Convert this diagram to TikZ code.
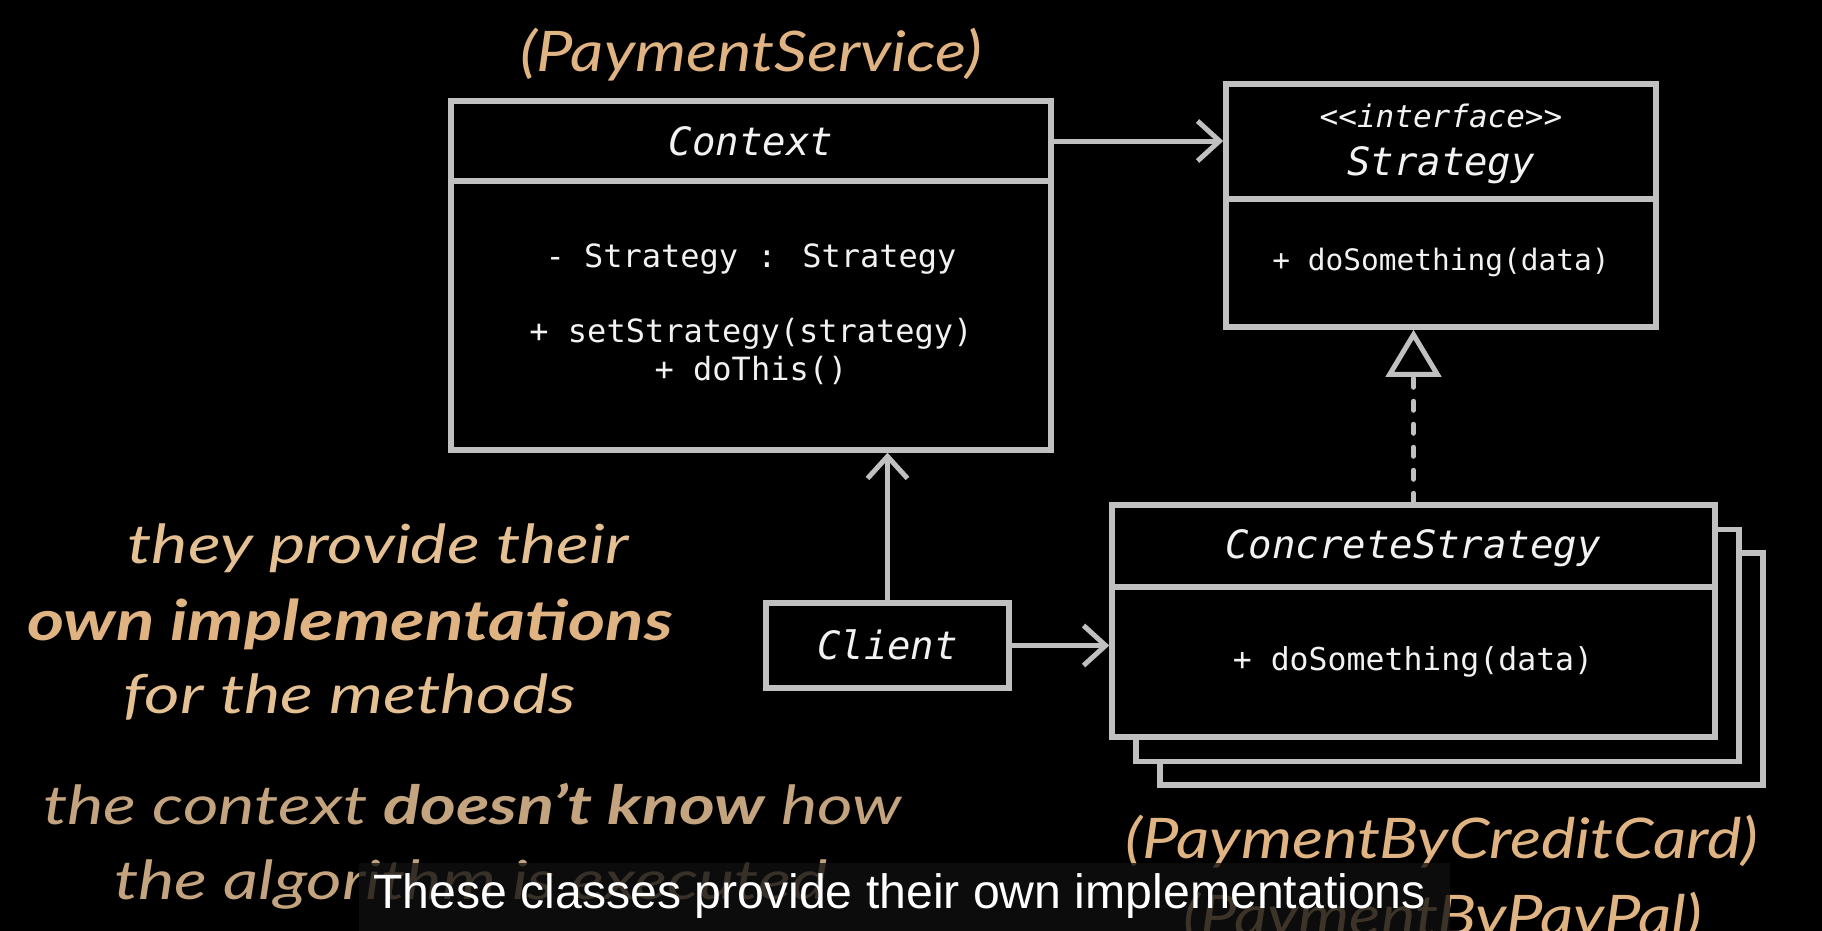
\documentclass[tikz,border=0pt]{standalone}
\usepackage{fontspec}
\usetikzlibrary{arrows.meta}
\newfontfamily\umono{DejaVu Sans Mono}
\newfontfamily\goldA[FakeStretch=1.16]{Lato}
\newfontfamily\goldB[FakeStretch=1.27]{Lato}
\newfontfamily\subf{Liberation Sans}
\definecolor{boxgray}{RGB}{192,192,192}
\definecolor{gold}{RGB}{224,180,130}
\definecolor{goldlt}{RGB}{228,192,146}
\definecolor{golddim}{RGB}{196,164,126}
\definecolor{subbg}{RGB}{16,16,16}
\definecolor{mtext}{RGB}{242,242,242}
\begin{document}
\begin{tikzpicture}[x=1pt,y=-1pt,
  umlbox/.style={draw=boxgray, line width=5.5pt, fill=black, inner sep=0pt},
  divider/.style={draw=boxgray, line width=5.5pt},
  conn/.style={draw=boxgray, line width=5pt, -{Straight Barb[length=22pt,width=40pt]}},
  realize/.style={draw=boxgray, line width=5pt, line cap=round, dash pattern=on 9pt off 14pt,
     -{Triangle[open,length=47pt,width=55pt,fill=black]}},
  mtitle/.style={text=mtext, inner sep=0pt, anchor=base, font=\umono\itshape\fontsize{39}{47}\selectfont},
  mbody/.style={text=mtext, inner sep=0pt, anchor=base, font=\umono\fontsize{32}{38}\selectfont},
  aliastxt/.style={text=gold, inner sep=0pt, anchor=base, font=\goldA\itshape\fontsize{56}{62}\selectfont},
  goldtxt/.style={text=goldlt, inner sep=0pt, anchor=base, font=\goldB\itshape\fontsize{54}{60}\selectfont},
  subtxt/.style={text=white, inner sep=0pt, anchor=base west, font=\subf\fontsize{48.2}{55}\selectfont}
]
% background / frame
\fill[black] (0,0) rectangle (1822,931);
\useasboundingbox (0,0) rectangle (1822,931);

% Context
\node[umlbox, minimum width=600pt, minimum height=349pt] (context) at (751,275.5) {};
\draw[divider] (context.west |- 0,181) -- (context.east |- 0,181);
\node[mtitle] (ctxtitle) at (751,155) {Context};
\node[mbody] (ctxattr) at (751,267) {- Strategy : Strategy};
\node[mbody] (ctxm1) at (751,342) {+ setStrategy(strategy)};
\node[mbody] (ctxm2) at (751,380) {+ doThis()};
\node[aliastxt] (ctxalias) at (751,72) {(PaymentService)};

% Strategy
\node[umlbox, minimum width=430pt, minimum height=243pt] (strategy) at (1441,205.5) {};
\draw[divider] (strategy.west |- 0,199) -- (strategy.east |- 0,199);
\node[mtitle, font=\umono\itshape\fontsize{31}{37}\selectfont] (stereo) at (1441,128) {<{}<interface>{}>};
\node[mtitle] (strtitle) at (1441,175) {Strategy};
\node[mbody, font=\umono\fontsize{29.5}{35}\selectfont] (strm) at (1441,270) {+ doSomething(data)};

% Concrete strategies (stack)
\node[umlbox, minimum width=603pt, minimum height=232pt] (concrete3) at (1461.5,669) {};
\node[umlbox, minimum width=603pt, minimum height=232pt] (concrete2) at (1437.5,645.5) {};
\node[umlbox, minimum width=603pt, minimum height=232pt] (concrete) at (1413.5,621) {};
\draw[divider] (concrete.west |- 0,587) -- (concrete.east |- 0,587);
\node[mtitle] (contitle) at (1413,558) {ConcreteStrategy};
\node[mbody, font=\umono\fontsize{31.5}{37}\selectfont] (conm) at (1413,670) {+ doSomething(data)};

% Client
\node[umlbox, minimum width=243pt, minimum height=85pt] (client) at (887.5,645.5) {};
\node[mtitle] (clititle) at (887.5,659) {Client};

% connectors
\coordinate (assocy) at (0,141);
\draw[conn] (context.east |- assocy) -- (strategy.west |- assocy);
\draw[realize] (concrete.north) -- (concrete.north |- strategy.south);
\draw[conn] (client.north) -- (client.north |- context.south);
\draw[conn] (client.east) -- (client.east -| concrete.west);

% aliases
\node[aliastxt] (alias1) at (1442,858) {(PaymentByCreditCard)};
\node[aliastxt] (alias2) at (1443,935) {(PaymentByPayPal)};

% left notes
\node[goldtxt] (n1) at (378,563) {they provide their};
\node[goldtxt, text=gold, font=\goldB\bfseries\itshape\fontsize{56}{62}\selectfont] (n2) at (350,640) {own implementations};
\node[goldtxt] (n3) at (350,713) {for the methods};
\node[goldtxt, text=golddim, anchor=base west] (n4) at (43,824) {the context \textbf{doesn’t know} how};
\node[goldtxt, text=golddim, anchor=base west] (n5) at (114,899) {the algorithm is executed};

% subtitle overlay
\fill[subbg, fill opacity=0.78] (359,863) rectangle (1450,931);
\node[subtxt] (subtitle) at (373,908) {These classes provide their own implementations};
\end{tikzpicture}
\end{document}
